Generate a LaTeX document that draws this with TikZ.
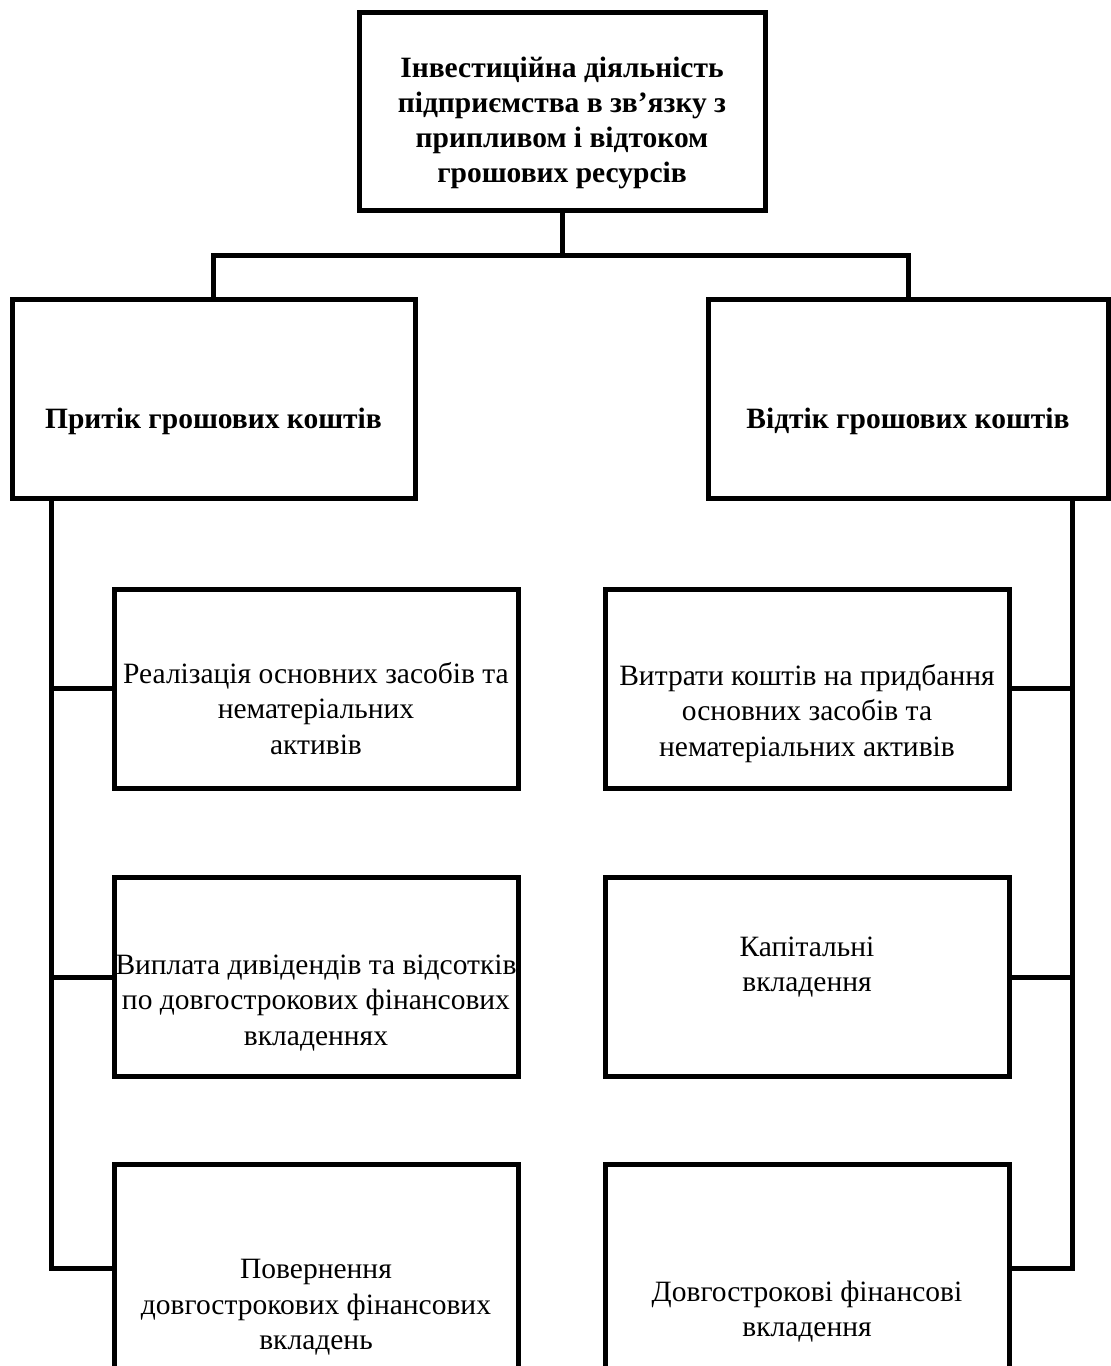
\documentclass[tikz,border=0pt]{standalone}
\usepackage{fontspec}
\setmainfont{Liberation Serif}
\begin{document}
\begin{tikzpicture}[x=1pt,y=-1pt,
  box/.style={draw=black,line width=5pt,rectangle,inner sep=0pt,minimum width=404pt,minimum height=199pt},
  txt/.style={align=center,font=\fontsize{29.5}{35.5}\selectfont},
  btxt/.style={align=center,font=\fontsize{29.5}{35}\selectfont\bfseries},
  conn/.style={line width=5pt,line cap=rect}]
\clip (0,0) rectangle (1111,1366);
\useasboundingbox (0,0) rectangle (1111,1366);
\node[box,minimum width=406pt,minimum height=198pt,
  label={[btxt,yshift=-12pt]center:{Інвестиційна діяльність\\підприємства в зв’язку з\\припливом і відтоком\\грошових ресурсів}}] (top) at (562,111) {};
\node[box,minimum width=403pt,
  label={[btxt,yshift=-23pt]center:{Притік грошових коштів}}] (lb) at (213.5,398.5) {};
\node[box,minimum width=400pt,
  label={[btxt,yshift=-23pt]center:{Відтік грошових коштів}}] (rb) at (908,398.5) {};
\node[box,label={[txt,yshift=-20pt]center:{Реалізація основних засобів та\\нематеріальних\\активів}}] (l1) at (316,688.5) {};
\node[box,label={[txt,yshift=-26pt]center:{Виплата дивідендів та відсотків\\по довгострокових фінансових\\вкладеннях}}] (l2) at (316,977) {};
\node[box,minimum height=208pt,label={[txt,yshift=-39.5pt]center:{Повернення\\довгострокових фінансових\\вкладень}}] (l3) at (316,1268) {};
\node[box,label={[txt,yshift=-25pt]center:{Витрати коштів на придбання\\основних засобів та\\нематеріальних активів}}] (r1) at (807,688.5) {};
\node[box,label={[txt,yshift=10pt]center:{Капітальні\\вкладення}}] (r2) at (807,977) {};
\node[box,minimum height=208pt,label={[txt,yshift=-43.5pt]center:{Довгострокові фінансові\\вкладення}}] (r3) at (807,1268) {};
\coordinate (bar) at (0,255);
\coordinate (lx) at (51,0);
\coordinate (rx) at (1072,0);
\draw[conn] (top.south) -- (top.south |- bar);
\draw[conn] (lb.north) -- (lb.north |- bar) -- (rb.north |- bar) -- (rb.north);
\draw[conn] (lb.south -| lx) -- (lx |- l3.west) -- (l3.west);
\draw[conn] (lx |- l1.west) -- (l1.west);
\draw[conn] (lx |- l2.west) -- (l2.west);
\draw[conn] (rb.south -| rx) -- (rx |- r3.east) -- (r3.east);
\draw[conn] (rx |- r1.east) -- (r1.east);
\draw[conn] (rx |- r2.east) -- (r2.east);
\end{tikzpicture}
\end{document}
